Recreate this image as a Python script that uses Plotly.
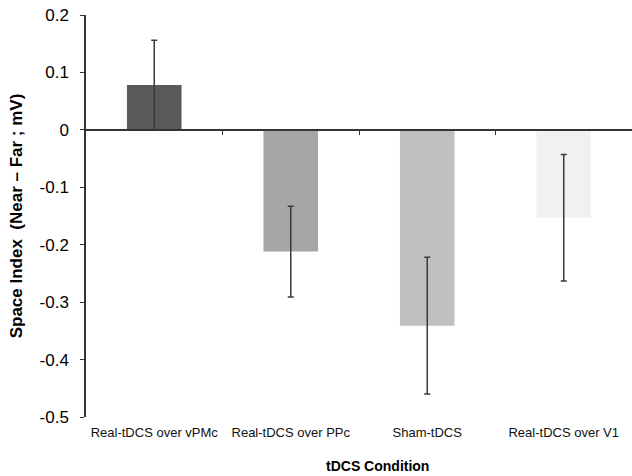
import plotly.graph_objects as go

categories = ["Real-tDCS over vPMc", "Real-tDCS over PPc", "Sham-tDCS", "Real-tDCS over V1"]
values = [0.078, -0.212, -0.341, -0.153]
errors = [0.078, 0.079, 0.119, 0.11]
colors = ["#5a5a5a", "#a6a6a6", "#c0c0c0", "#f1f1f1"]
y_ticks = [0.2, 0.1, 0, -0.1, -0.2, -0.3, -0.4, -0.5]
y_range = [-0.5, 0.2]
boundaries = [0.5, 1.5, 2.5]

font = "Liberation Sans, Arial, sans-serif"

fig = go.Figure()
fig.add_trace(go.Bar(
    x=categories, y=values,
    marker=dict(color=colors, line=dict(width=0)),
    error_y=dict(type="data", array=errors, color="#3a3a3a", thickness=1.5, width=3),
    width=0.4,
))

zero_pos = (0 - y_range[0]) / (y_range[1] - y_range[0])

fig.update_layout(
    width=632, height=476,
    margin=dict(l=86, r=0, t=15, b=59),
    plot_bgcolor="white", paper_bgcolor="white",
    showlegend=False,
    font=dict(family=font, color="#000"),
    xaxis=dict(
        type="category", range=[-0.5, 3.5], automargin=False,
        showline=False, showgrid=False, zeroline=False,
        ticks="", ticklabelstandoff=6,
        tickfont=dict(size=13, color="#111"),
    ),
    xaxis2=dict(
        overlaying="x", anchor="free", position=zero_pos, automargin=False,
        range=[-0.5, 3.5], showgrid=False, zeroline=False,
        showline=True, linecolor="#333", linewidth=1.5,
        ticks="outside", tickvals=boundaries, ticklen=4, tickcolor="#333",
        showticklabels=False,
    ),
    yaxis=dict(
        range=y_range, tickvals=y_ticks, ticktext=[("%g" % v) for v in y_ticks],
        automargin=False,
        showline=True, linecolor="#333", linewidth=1.5,
        ticks="outside", ticklen=4, tickcolor="#333", ticklabelstandoff=8,
        showgrid=False, zeroline=False,
        tickfont=dict(size=17),
        title=dict(text="<b>Space Index  (Near \u2013 Far ; mV)</b>", font=dict(size=17), standoff=13),
    ),
    annotations=[dict(
        text="<b>tDCS Condition</b>", xref="paper", yref="paper",
        x=0.533, y=-0.121, xanchor="center", yanchor="middle",
        showarrow=False, font=dict(size=14),
    )],
)
fig.add_trace(go.Scatter(x=[-0.5, 3.5], y=[0, 0], xaxis="x2", mode="lines",
                         line=dict(color="rgba(0,0,0,0)"), hoverinfo="skip"))

fig.write_html("out.html", config={"displayModeBar": False},
               post_script="document.body.style.margin='0';document.body.style.overflow='hidden';")
